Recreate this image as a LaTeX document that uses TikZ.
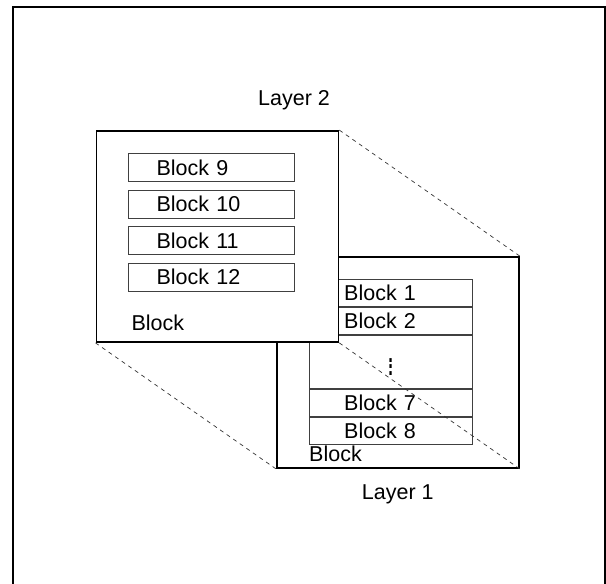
\documentclass[tikz,border=0pt]{standalone}
\usepackage{fontspec}
\setmainfont{Liberation Sans}
\usetikzlibrary{positioning}

\begin{document}
\begin{tikzpicture}[
    x=1pt, y=1pt,
    font=\fontsize{21.5}{25}\selectfont,
    layer/.style={rectangle, draw=black, line width=1.8pt, fill=white, minimum width=242pt, minimum height=211pt},
    upblock/.style={rectangle, draw=black!75, line width=0.8pt, fill=white, minimum height=28pt, text width=110pt, inner xsep=28pt, inner ysep=1pt, align=left},
    lowblock/.style={rectangle, draw=black!75, line width=0.8pt, minimum height=27.2pt, text width=92.8pt, inner xsep=35pt, inner ysep=1pt, align=left},
    caption/.style={inner sep=0pt},
    zoomline/.style={draw=black!80, line width=0.7pt, dash pattern=on 4pt off 4pt}
]
\useasboundingbox (0,0) rectangle (606,584);

% Frame
\draw[line width=2.5pt] (13,-30) -- (13,577) -- (605.5,577) -- (605.5,-30);

% Layer 1
\node[layer] (layerone) at (397.75,221.6) {};
\node[lowblock] (block1) at (390.6,291.1) {Block 1};
\node[lowblock, below=0pt of block1] (block2) {Block 2};
\node[lowblock, below=0pt of block2, minimum height=52.9pt, text width=162.8pt, inner xsep=0pt, inner ysep=0pt, align=center] (dots) {\scalebox{1.1}[1.7]{$\vdots$}};
\node[lowblock, below=0pt of dots] (block7) {Block 7};
\node[lowblock, below=0pt of block7] (block8) {Block 8};
\node[caption, anchor=west] (blockone) at (309,130.4) {Block};
\node[caption, below=15.5pt of layerone] (labelone) {Layer 1};

% Layer 2
\node[layer] (layertwo) at (217.4,347.5) {};
\node[upblock] (block9) at (211.6,416.6) {Block 9};
\node[upblock, below=7.8pt of block9] (block10) {Block 10};
\node[upblock, below=7.8pt of block10] (block11) {Block 11};
\node[upblock, below=7.8pt of block11] (block12) {Block 12};
\node[caption, anchor=west] (blocktwo) at (131.4,261.5) {Block};
\node[caption] (labeltwo) at (294,483.4) {Layer 2};

% Dashed lines
\draw[zoomline] (layertwo.north east) -- (layerone.north east);
\draw[zoomline] (layertwo.south west) -- (layerone.south west);
\draw[zoomline] (layertwo.south east) -- (layerone.south east);

\end{tikzpicture}
\end{document}
